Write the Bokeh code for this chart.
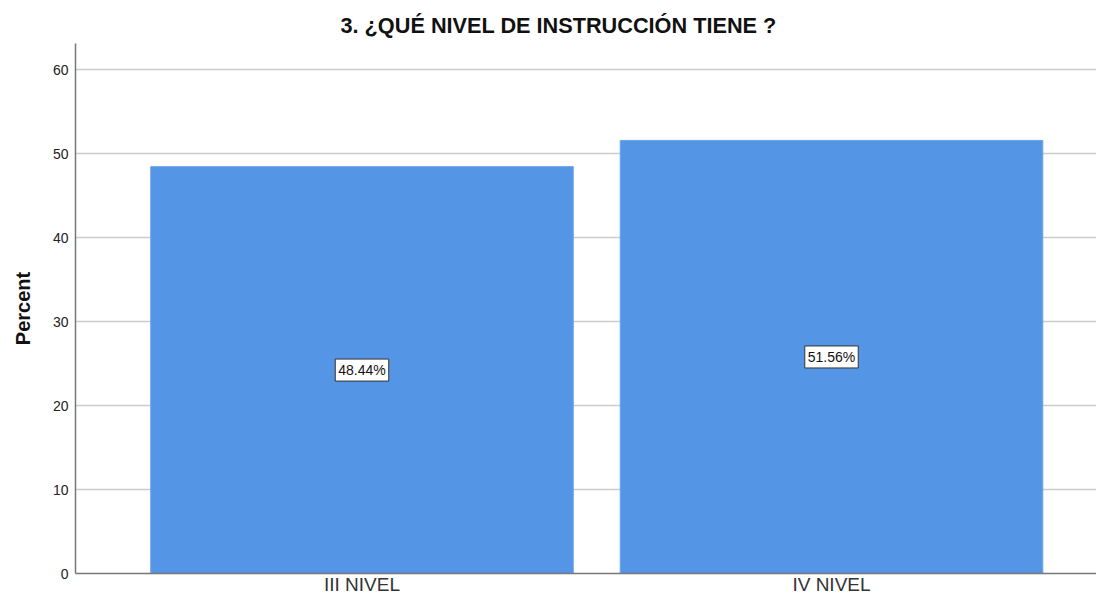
from bokeh.plotting import figure
from bokeh.models import ColumnDataSource, Label, Range1d, FixedTicker, Title
from bokeh.embed import file_html
from bokeh.resources import INLINE

categories = ["III NIVEL", "IV NIVEL"]
percent = [48.44, 51.56]
labels = ["48.44%", "51.56%"]
y_ticks = [0, 10, 20, 30, 40, 50, 60]

xs = [i + 1 for i in range(len(categories))]
src = ColumnDataSource(dict(x=xs, top=percent))

p = figure(width=1096, height=597, output_backend="svg", toolbar_location=None,
           x_range=Range1d(0.3898, 2.5644), y_range=Range1d(0, 63.1),
           min_border_left=75, min_border_right=0, min_border_top=43, min_border_bottom=20)
p.title = None
t = Title(text="3. ¿QUÉ NIVEL DE INSTRUCCIÓN TIENE ?", align="left", offset=265,
          text_font="Liberation Sans", text_font_size="21.7px", text_font_style="bold",
          text_color="#111111", standoff=12)
p.add_layout(t, "above")

p.vbar(x="x", top="top", width=0.9, source=src, fill_color="#5495e5",
       line_color="#6aa4ea", line_width=1)

for xv, v, lab in zip(xs, percent, labels):
    p.add_layout(Label(x=xv, y=v / 2, text=lab, text_align="center",
                       text_baseline="middle", text_font="Liberation Sans",
                       text_font_size="14px", text_color="#111111",
                       background_fill_color="white", border_line_color="#333333",
                       border_line_width=1, padding=3))

p.xaxis.ticker = FixedTicker(ticks=xs)
p.xaxis.major_label_overrides = {x: c for x, c in zip(xs, categories)}
p.xaxis.major_label_text_font = "Liberation Sans"
p.xaxis.major_label_text_font_size = "19px"
p.xaxis.major_label_text_color = "#333333"
p.xaxis.major_tick_line_color = None
p.xaxis.major_tick_out = 0
p.xaxis.major_tick_in = 0
p.xaxis.major_label_standoff = 0
p.xaxis.minor_tick_line_color = None
p.xaxis.axis_line_color = "#777777"
p.xaxis.axis_line_width = 1.5

p.yaxis.ticker = FixedTicker(ticks=y_ticks)
p.yaxis.axis_label = "Percent"
p.yaxis.axis_label_text_font = "Liberation Sans"
p.yaxis.axis_label_text_font_size = "20px"
p.yaxis.axis_label_text_font_style = "bold"
p.yaxis.axis_label_text_color = "#111111"
p.yaxis.axis_label_standoff = 16
p.yaxis.major_label_text_font = "Liberation Sans"
p.yaxis.major_label_text_font_size = "14px"
p.yaxis.major_label_text_color = "#222222"
p.yaxis.major_tick_line_color = None
p.yaxis.major_tick_out = 0
p.yaxis.major_tick_in = 0
p.yaxis.major_label_standoff = 7
p.yaxis.minor_tick_line_color = None
p.yaxis.axis_line_color = "#777777"
p.yaxis.axis_line_width = 1.5

p.xgrid.grid_line_color = None
p.ygrid.ticker = FixedTicker(ticks=y_ticks)
p.ygrid.grid_line_color = "#cccccc"
p.ygrid.grid_line_width = 1.5
p.outline_line_color = None

open("out.html", "w").write(file_html(p, INLINE))
